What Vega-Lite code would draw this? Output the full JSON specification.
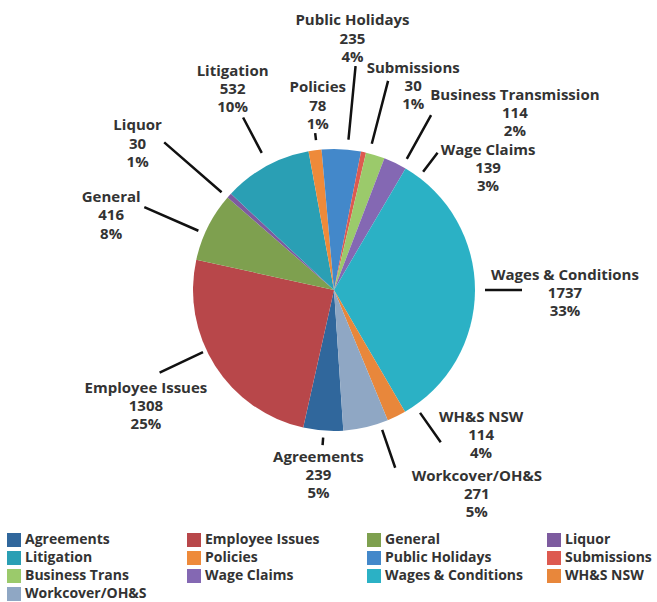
{
  "$schema": "https://vega.github.io/schema/vega-lite/v6.json",
  "width": 646,
  "height": 580,
  "autosize": {"type": "none"},
  "padding": {"left": 11, "top": 0, "right": 0, "bottom": 22},
  "background": "white",
  "config": {"view": {"stroke": null}},
  "data": {"values": [
    {"cat": "Agreements", "label": "Agreements", "n": 239, "pct": "5%"},
    {"cat": "Employee Issues", "label": "Employee Issues", "n": 1308, "pct": "25%"},
    {"cat": "General", "label": "General", "n": 416, "pct": "8%"},
    {"cat": "Liquor", "label": "Liquor", "n": 30, "pct": "1%"},
    {"cat": "Litigation", "label": "Litigation", "n": 532, "pct": "10%"},
    {"cat": "Policies", "label": "Policies", "n": 78, "pct": "1%"},
    {"cat": "Public Holidays", "label": "Public Holidays", "n": 235, "pct": "4%"},
    {"cat": "Submissions", "label": "Submissions", "n": 30, "pct": "1%"},
    {"cat": "Business Trans", "label": "Business Transmission", "n": 114, "pct": "2%"},
    {"cat": "Wage Claims", "label": "Wage Claims", "n": 139, "pct": "3%"},
    {"cat": "Wages & Conditions", "label": "Wages & Conditions", "n": 1737, "pct": "33%"},
    {"cat": "WH&S NSW", "label": "WH&S NSW", "n": 114, "pct": "4%"},
    {"cat": "Workcover/OH&S", "label": "Workcover/OH&S", "n": 271, "pct": "5%"}
  ]},
  "transform": [{"window": [{"op": "row_number", "as": "rn"}]}],
  "encoding": {
    "theta": {"field": "n", "type": "quantitative", "stack": true, "scale": {"range": [3.0753, 9.3585]}},
    "order": {"field": "rn", "type": "quantitative"}
  },
  "layer": [
    {
      "mark": {"type": "arc", "outerRadius": 141},
      "encoding": {
        "color": {
          "field": "cat", "type": "nominal",
          "scale": {
            "domain": ["Agreements", "Employee Issues", "General", "Liquor", "Litigation", "Policies", "Public Holidays", "Submissions", "Business Trans", "Wage Claims", "Wages & Conditions", "WH&S NSW", "Workcover/OH&S"],
            "range": ["#30679C", "#B8474A", "#7EA04F", "#7D5B9F", "#2A9FB4", "#EE8A3A", "#4388CA", "#DD5A50", "#9BCA6B", "#8468B3", "#2BB1C5", "#E8873B", "#8FA7C4"]
          },
          "legend": {
            "orient": "none", "legendX": -4, "legendY": 533, "columns": 4, "direction": "horizontal",
            "title": null, "symbolType": "square", "symbolSize": 196, "symbolStrokeWidth": 0,
            "labelFont": "Open Sans", "labelFontSize": 14, "labelFontWeight": "bold", "labelColor": "#333333",
            "labelOffset": 4, "rowPadding": 4, "columnPadding": 23, "gridAlign": "all", "padding": 0, "labelLimit": 300
          }
        }
      }
    },
    {"mark": {"type": "arc", "outerRadius": 155.5, "innerRadius": 148, "padAngle": 3, "thetaOffset": -0.0035, "theta2Offset": -0.0035, "fillOpacity": 0, "stroke": "#111111", "strokeWidth": 2.5},
     "encoding": {"strokeOpacity": {"condition": {"test": "datum.cat === 'Agreements'", "value": 1}, "value": 0}}},
    {"mark": {"type": "arc", "outerRadius": 193, "innerRadius": 145, "padAngle": 3, "thetaOffset": 0.1239, "theta2Offset": 0.1239, "fillOpacity": 0, "stroke": "#111111", "strokeWidth": 2.5},
     "encoding": {"strokeOpacity": {"condition": {"test": "datum.cat === 'Employee Issues'", "value": 1}, "value": 0}}},
    {"mark": {"type": "arc", "outerRadius": 207, "innerRadius": 148, "padAngle": 3, "thetaOffset": -0.0541, "theta2Offset": -0.0541, "fillOpacity": 0, "stroke": "#111111", "strokeWidth": 2.5},
     "encoding": {"strokeOpacity": {"condition": {"test": "datum.cat === 'General'", "value": 1}, "value": 0}}},
    {"mark": {"type": "arc", "outerRadius": 225, "innerRadius": 149, "padAngle": 3, "thetaOffset": -0.0175, "theta2Offset": -0.0175, "fillOpacity": 0, "stroke": "#111111", "strokeWidth": 2.5},
     "encoding": {"strokeOpacity": {"condition": {"test": "datum.cat === 'Liquor'", "value": 1}, "value": 0}}},
    {"mark": {"type": "arc", "outerRadius": 195, "innerRadius": 155, "padAngle": 3, "thetaOffset": 0.0157, "theta2Offset": 0.0157, "fillOpacity": 0, "stroke": "#111111", "strokeWidth": 2.5},
     "encoding": {"strokeOpacity": {"condition": {"test": "datum.cat === 'Litigation'", "value": 1}, "value": 0}}},
    {"mark": {"type": "arc", "outerRadius": 158, "innerRadius": 151, "padAngle": 3, "thetaOffset": 0.0157, "theta2Offset": 0.0157, "fillOpacity": 0, "stroke": "#111111", "strokeWidth": 2.5},
     "encoding": {"strokeOpacity": {"condition": {"test": "datum.cat === 'Policies'", "value": 1}, "value": 0}}},
    {"mark": {"type": "arc", "outerRadius": 225, "innerRadius": 151, "padAngle": 3, "thetaOffset": 0.0436, "theta2Offset": 0.0436, "fillOpacity": 0, "stroke": "#111111", "strokeWidth": 2.5},
     "encoding": {"strokeOpacity": {"condition": {"test": "datum.cat === 'Public Holidays'", "value": 1}, "value": 0}}},
    {"mark": {"type": "arc", "outerRadius": 216, "innerRadius": 151, "padAngle": 3, "thetaOffset": 0.0419, "theta2Offset": 0.0419, "fillOpacity": 0, "stroke": "#111111", "strokeWidth": 2.5},
     "encoding": {"strokeOpacity": {"condition": {"test": "datum.cat === 'Submissions'", "value": 1}, "value": 0}}},
    {"mark": {"type": "arc", "outerRadius": 200, "innerRadius": 150, "padAngle": 3, "thetaOffset": 0.2094, "theta2Offset": 0.2094, "fillOpacity": 0, "stroke": "#111111", "strokeWidth": 2.5},
     "encoding": {"strokeOpacity": {"condition": {"test": "datum.cat === 'Business Trans'", "value": 1}, "value": 0}}},
    {"mark": {"type": "arc", "outerRadius": 172, "innerRadius": 148, "padAngle": 3, "thetaOffset": 0.1972, "theta2Offset": 0.1972, "fillOpacity": 0, "stroke": "#111111", "strokeWidth": 2.5},
     "encoding": {"strokeOpacity": {"condition": {"test": "datum.cat === 'Wage Claims'", "value": 1}, "value": 0}}},
    {"mark": {"type": "arc", "outerRadius": 188, "innerRadius": 151, "padAngle": 3, "thetaOffset": -0.0017, "theta2Offset": -0.0017, "fillOpacity": 0, "stroke": "#111111", "strokeWidth": 2.5},
     "encoding": {"strokeOpacity": {"condition": {"test": "datum.cat === 'Wages & Conditions'", "value": 1}, "value": 0}}},
    {"mark": {"type": "arc", "outerRadius": 186, "innerRadius": 150, "padAngle": 3, "thetaOffset": -0.1518, "theta2Offset": -0.1518, "fillOpacity": 0, "stroke": "#111111", "strokeWidth": 2.5},
     "encoding": {"strokeOpacity": {"condition": {"test": "datum.cat === 'WH&S NSW'", "value": 1}, "value": 0}}},
    {"mark": {"type": "arc", "outerRadius": 188, "innerRadius": 148, "padAngle": 3, "thetaOffset": -0.103, "theta2Offset": -0.103, "fillOpacity": 0, "stroke": "#111111", "strokeWidth": 2.5},
     "encoding": {"strokeOpacity": {"condition": {"test": "datum.cat === 'Workcover/OH&S'", "value": 1}, "value": 0}}},
    {"mark": {"type": "text", "radius": 185.6, "thetaOffset": 0.007, "dy": -18.3, "font": "Open Sans", "fontSize": 15, "fontWeight": "bold", "color": "#333333", "align": "center", "baseline": "middle", "lineHeight": 18.3, "text": {"expr": "datum.cat === 'Agreements' ? [datum.label, '' + datum.n, datum.pct] : ''"}}},
    {"mark": {"type": "text", "radius": 221, "thetaOffset": 0.014, "dy": -18.3, "font": "Open Sans", "fontSize": 15, "fontWeight": "bold", "color": "#333333", "align": "center", "baseline": "middle", "lineHeight": 18.3, "text": {"expr": "datum.cat === 'Employee Issues' ? [datum.label, '' + datum.n, datum.pct] : ''"}}},
    {"mark": {"type": "text", "radius": 235, "thetaOffset": -0.1431, "dy": -18.3, "font": "Open Sans", "fontSize": 15, "fontWeight": "bold", "color": "#333333", "align": "center", "baseline": "middle", "lineHeight": 18.3, "text": {"expr": "datum.cat === 'General' ? [datum.label, '' + datum.n, datum.pct] : ''"}}},
    {"mark": {"type": "text", "radius": 245, "thetaOffset": -0.0925, "dy": -18.3, "font": "Open Sans", "fontSize": 15, "fontWeight": "bold", "color": "#333333", "align": "center", "baseline": "middle", "lineHeight": 18.3, "text": {"expr": "datum.cat === 'Liquor' ? [datum.label, '' + datum.n, datum.pct] : ''"}}},
    {"mark": {"type": "text", "radius": 225, "thetaOffset": 0.0332, "dy": -18.3, "font": "Open Sans", "fontSize": 15, "fontWeight": "bold", "color": "#333333", "align": "center", "baseline": "middle", "lineHeight": 18.3, "text": {"expr": "datum.cat === 'Litigation' ? [datum.label, '' + datum.n, datum.pct] : ''"}}},
    {"mark": {"type": "text", "radius": 185, "thetaOffset": 0.0471, "dy": -18.3, "font": "Open Sans", "fontSize": 15, "fontWeight": "bold", "color": "#333333", "align": "center", "baseline": "middle", "lineHeight": 18.3, "text": {"expr": "datum.cat === 'Policies' ? [datum.label, '' + datum.n, datum.pct] : ''"}}},
    {"mark": {"type": "text", "radius": 252, "thetaOffset": 0.0209, "dy": -18.3, "font": "Open Sans", "fontSize": 15, "fontWeight": "bold", "color": "#333333", "align": "center", "baseline": "middle", "lineHeight": 18.3, "text": {"expr": "datum.cat === 'Public Holidays' ? [datum.label, '' + datum.n, datum.pct] : ''"}}},
    {"mark": {"type": "text", "radius": 219, "thetaOffset": 0.1588, "dy": -18.3, "font": "Open Sans", "fontSize": 15, "fontWeight": "bold", "color": "#333333", "align": "center", "baseline": "middle", "lineHeight": 18.3, "text": {"expr": "datum.cat === 'Submissions' ? [datum.label, '' + datum.n, datum.pct] : ''"}}},
    {"mark": {"type": "text", "radius": 253, "thetaOffset": 0.4992, "dy": -18.3, "font": "Open Sans", "fontSize": 15, "fontWeight": "bold", "color": "#333333", "align": "center", "baseline": "middle", "lineHeight": 18.3, "text": {"expr": "datum.cat === 'Business Trans' ? [datum.label, '' + datum.n, datum.pct] : ''"}}},
    {"mark": {"type": "text", "radius": 196.5, "thetaOffset": 0.452, "dy": -18.3, "font": "Open Sans", "fontSize": 15, "fontWeight": "bold", "color": "#333333", "align": "center", "baseline": "middle", "lineHeight": 18.3, "text": {"expr": "datum.cat === 'Wage Claims' ? [datum.label, '' + datum.n, datum.pct] : ''"}}},
    {"mark": {"type": "text", "radius": 231, "thetaOffset": 0.0105, "dy": -18.3, "font": "Open Sans", "fontSize": 15, "fontWeight": "bold", "color": "#333333", "align": "center", "baseline": "middle", "lineHeight": 18.3, "text": {"expr": "datum.cat === 'Wages & Conditions' ? [datum.label, '' + datum.n, datum.pct] : ''"}}},
    {"mark": {"type": "text", "radius": 206.5, "thetaOffset": -0.3334, "dy": -18.3, "font": "Open Sans", "fontSize": 15, "fontWeight": "bold", "color": "#333333", "align": "center", "baseline": "middle", "lineHeight": 18.3, "text": {"expr": "datum.cat === 'WH&S NSW' ? [datum.label, '' + datum.n, datum.pct] : ''"}}},
    {"mark": {"type": "text", "radius": 249, "thetaOffset": -0.3822, "dy": -18.3, "font": "Open Sans", "fontSize": 15, "fontWeight": "bold", "color": "#333333", "align": "center", "baseline": "middle", "lineHeight": 18.3, "text": {"expr": "datum.cat === 'Workcover/OH&S' ? [datum.label, '' + datum.n, datum.pct] : ''"}}}
  ]
}
